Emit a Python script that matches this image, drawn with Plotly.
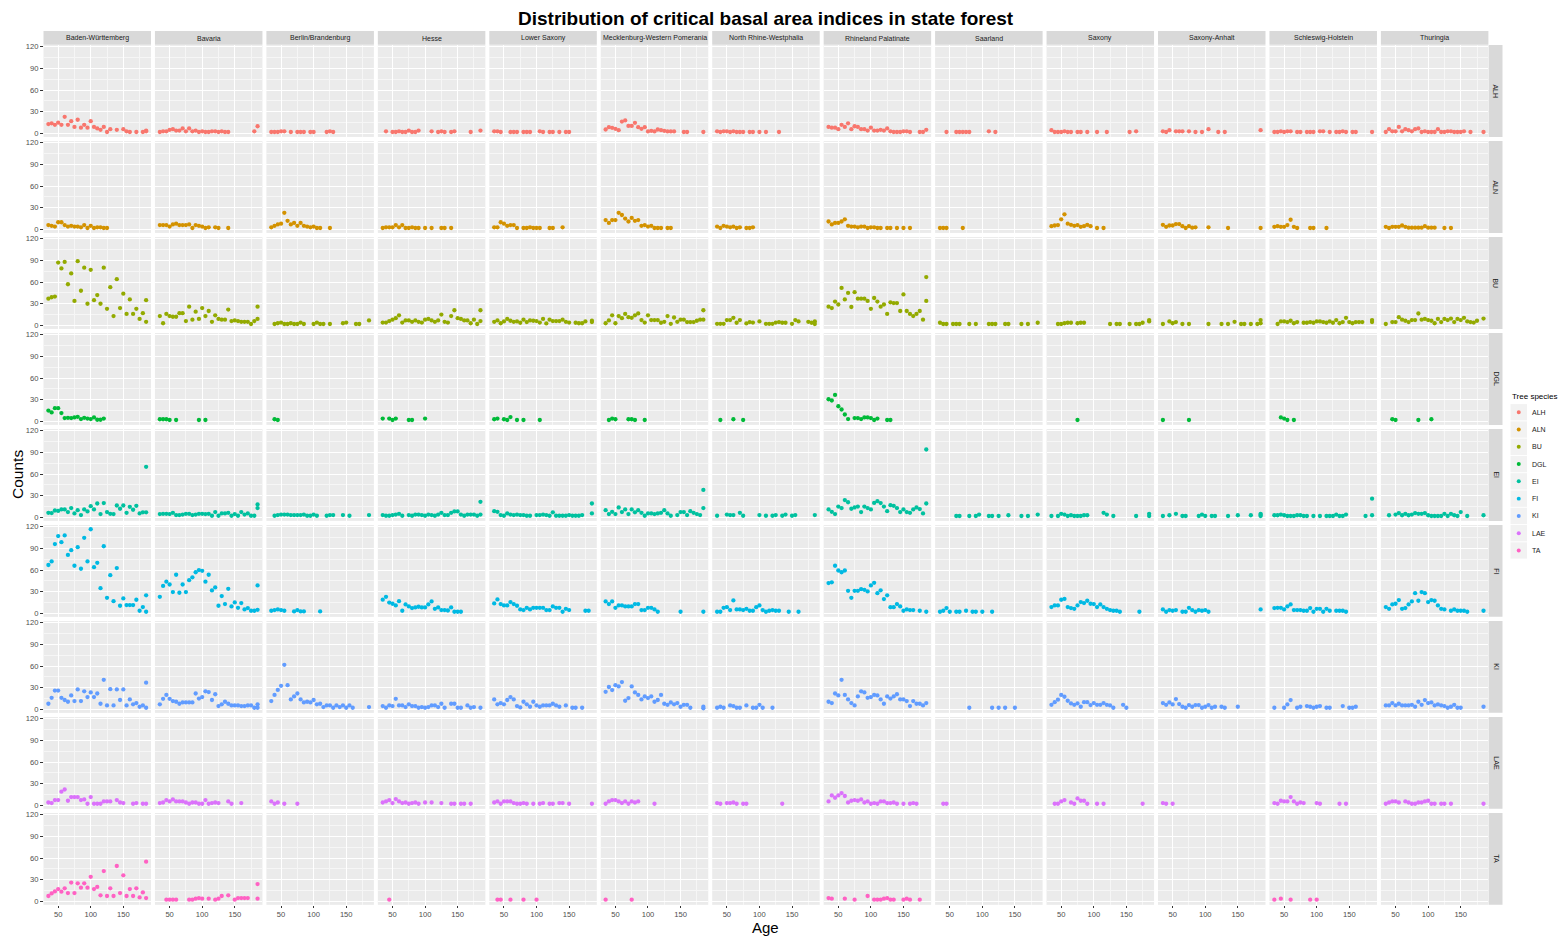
import plotly.graph_objects as go

N = None

SPECIES = ["ALH", "ALN", "BU", "DGL", "EI", "FI", "KI", "LAE", "TA"]
STATES = ["Baden-Württemberg", "Bavaria", "Berlin/Brandenburg", "Hesse", "Lower Saxony",
          "Mecklenburg-Western Pomerania", "North Rhine-Westphalia", "Rhineland Palatinate",
          "Saarland", "Saxony", "Saxony-Anhalt", "Schleswig-Holstein", "Thuringia"]
COLORS = ["#F8766D", "#D39200", "#93AA00", "#00BA38", "#00C19F", "#00B9E3", "#619CFF", "#DB72FB", "#FF61C3"]
AGES = list(range(35, 190, 5))
X_TICKS = [50, 100, 150]
Y_TICKS = [0, 30, 60, 90, 120]

# values per age class (35, 40, ... 185), one list per state, None = no observation
ALH = [
    [13, 14, 12, 15, 12, 23, 12, 17, 9, 19, 8, 12, 8, 17, 9, 7, 5, 9, 2, 6, N, 5, N, 6, 3, 2, N, 2, N, 2, 4],
    [2, 3, 3, 5, 6, 4, 4, 7, 3, 7, 3, 4, 2, 3, 2, 2, 3, 3, 2, 3, 2, 2, N, N, N, N, N, N, N, 3, 10],
    [2, 2, 2, 3, 3, N, 2, N, 2, 2, 2, N, 2, 2, N, N, N, 2, 3, 2],
    [N, 3, N, 2, 2, 3, 2, 2, 4, 2, 2, 4, N, N, N, 3, N, 2, 3, 2, N, 2, 3, N, N, N, N, 2, N, N, 4],
    [3, 3, 2, N, N, 2, 2, 2, N, 2, 2, 2, N, N, 3, 2, N, 2, 2, N, 2, N, 2, 2],
    [5.5, 8.7, 7.8, 6.4, 4.6, 16.5, 18, 10.5, 10.5, 14.7, 8.7, 6.4, 8.7, 2.8, 3.7, 2.8, 5.5, 4.6, 3.7, 2.8,
     2.8, 2.8, N, N, 2, 2, N, N, N, N, 2],
    [3, 2, 3, 3, 2, 3, 2, 2, 2, N, 2, 2, N, 2, N, 2, N, N, N, 2],
    [9, 8, 8, 6, 12, 9, 14, 6, 10, 9, 6, 6, 4, 8, 4, 4, 5, 4, 7, 3, 2, 2, 2, 3, 3, 2, N, N, 2, 2, 5],
    [N, N, 2, N, N, 2, 2, 2, 2, 2, N, N, N, N, N, 3, N, 2],
    [4.6, 2, 2, 2, 3, 2, 2, N, 2, 2, N, 2, N, N, 2, N, N, 2, N, N, N, N, N, N, 2, N, 3],
    [3, 2, 4.6, N, 3, 3, 3, N, 3, N, 2, N, 2, N, 6, N, N, 2, N, 2, N, N, N, N, N, N, N, N, N, N, 4.6],
    [2, 2, 3, 2, 3, 3, N, 2, 2, N, 2, 2, 2, N, 3, 3, N, 2, N, 2, 2, 3, 2, N, 2, 2, N, N, N, N, 2],
    [2, 6, 3, 3, 9, 3, 6, 4.6, 3, 6, 7, 2, 3, 2, 2, 2, 6, 2, 2, 3, 3, 2, 2, 2, 3, N, 2, N, N, N, 2],
]
ALN = [
    [6, 5, 4, 10, 10, 6, 4, 5, 4, 4, 3, 6, 2, 5, 2, 3, 3, 2, 2],
    [6, 6, 6, 4, 7, 8, 6, 6, 6, 7, 2, 6, 5, 4, 2, 3, N, 3, 2, N, N, 2],
    [3, 5, 7, 8, 23, 12, 7, 9, 5, 9, 5, 4, 3, 4, 2, 2, N, N, 2],
    [2, 3, 3, 3, 6, 3, 6, 2, 2, 3, 2, 2, N, 2, N, 2, N, N, 2, 2, N, 2],
    [3, 3, 10, 8, 5, 6, 6, 2, N, 2, 2, 3, 2, 2, 2, N, N, 2, 2, N, N, 3],
    [13, 9, 13, 13, 23, 20, 15, 11, 16, 12, 13, 5, 6, 4, 5, 2, 2, 2, N, 2, 2],
    [4, 2, 5, 4, 3, 4, 2, 3, N, 2, 2, 3],
    [11, 7, 9, 9, 11, 14, 5, 4, 4, 3, 4, 4, 2, 3, 3, 2, 2, N, 2, 2, N, 2, N, 2, N, 2],
    [2, 2, 2, N, N, N, N, 2],
    [4.6, 5.5, 6, 14, 21, 8, 6.4, 5, 6, 3.7, 4.6, 6.4, 4.6, N, 2, N, 2],
    [6.4, 3.7, 5.5, 5.5, 7.4, 7.4, 4.6, 2, 4.6, 2.5, 3, N, N, N, 3, N, N, N, N, N, 2, N, N, N, N, N, N, N, N, N, 2],
    [3.7, 4.6, 3.7, 3.7, 6, 13.4, 3.7, 2, N, N, N, 2, 2, N, N, N, 2],
    [3.7, 2, 3.7, 3.7, 3.7, 5.5, 3.7, 2.5, 2.5, 2.5, 2.5, 2.5, 4.6, 2.5, 2.5, 2.5, N, N, 2, N, 2],
]
BU = [
    [37, 39, 40, 87, 79, 88, 57, 72, 34, 89, 48, 80, 30, 77, 35, 42, 30, 80, 23, 53, 13, 64, 24, 44, 16, 36, 16, 23, 9, 17, 35],
    [13, 3, 16, 13, 12, 12, 17, 17, 6, 26, 8, 19, 9, 24, 13, 20, 5, 14, 9, 8, 8, 22, 6, 7, 6, 5, 5, 5, 2, 6, 26],
    [N, 2, 3, 4, 2, 2, 3, 2, 2, 4, 2, N, N, 2, 4, 2, 2, N, 2, N, N, N, 3, 4, N, N, 2, 2, N, N, 7],
    [4, 4, 6, 8, 10, 14, 4, 7, 7, 5, 7, 5, 4, 8, 9, 7, 5, 7, 15, 5, 4, 13, 21, 10, 9, 7, 7, 3, 8, 2, 21],
    [5, 7, 3, 5.5, 9, 6.5, 5, 5.5, 3.7, 8, 4.6, 7, 6.5, 6, 4, 9, 2.8, 8, 6, 6, 6, 8, 5, 4, N, 3.7, 3, 3, 5.5, N, 6.5],
    [3, 7, 14, 3, 13, 10, 16, 11.5, 10.6, 14, 16.7, 7.4, 4, 14, 7.4, 7.4, 7.4, 3.7, 5, 13, 2.3, 11, 5, 8, 8, 4.6,
     4.6, 4.6, 6.5, 8, 21],
    [2.3, 2.3, 2.3, 7.4, 7.4, 10.6, 3.7, 7.4, N, 2.8, 4.6, 4, N, 5.5, N, 2.3, 2.3, 2.3, 4, 4.6, 3.7, 3.7, N, 2.3,
     7.4, 5.5, N, N, 5, 3.7, 5.5],
    [26, 24, 33, 29, 52, 36, 45, 25.5, 46, 37, 37, 37, 34, 23, 38, 33, 26, 29, 16, 32, 31, 31, 20, 43, 20, 16, 13, 16, 20, 8, 67],
    [3.7, 2, 2, N, 2, 2, 2, N, N, 2, N, 2, N, N, N, 2, 2, 2, N, N, 2, 2, N, N, N, 2, N, 2, N, N, 3.7],
    [N, N, 2, 2, 3, 3.7, 3.7, N, 3, 3.7, 3.7, N, N, N, N, N, N, N, 2, N, 2, 2, N, N, 2, N, 2, 2, 3.7, N, 5.5],
    [2, N, 5.5, 3, 4.6, N, 2, N, 2, N, N, N, N, N, 2, N, N, N, 2, N, 2, N, 5, N, 2, 2, N, 2, N, 2, 7.4],
    [N, 2, 5.5, 5.5, 4.6, 6.5, 3, 4.6, N, 3.7, 3.7, 4.6, 3.7, 5.5, 5.5, 4.6, 3.7, 5.5, 3.7, 7.4, 3, 4.6, 10.6,
     4.6, 3, 4.6, 4.6, 4.6, N, N, 4.6],
    [2, N, 4.6, 4.6, 11.5, 8, 6.5, 4.6, 7.4, 7.4, 16.5, 8, 9, 7.4, 6.5, 3, 9, 4.6, 9, 7.4, 9.5, 4.6, 9, 7.4, 10.6,
     5.5, 4.6, 4, 6.5, N, 9.5],
]
DGL = [
    [15, 12.4, 18.3, 18.3, 11.5, 4.6, 5, 4.6, 5.5, 6.4, 3.2, 5, 4, 3.2, 5.5, 2.3, 2.3, 4],
    [3, 3, 3, 2, N, 2, N, N, N, N, N, N, 2, N, 2],
    [N, 3, 2],
    [4, N, 4, 2, 4, N, N, N, 2, 2, N, N, N, 4],
    [3, 4, N, 3, 2, 6, N, 2, N, 2, N, N, N, N, 2],
    [N, 2, 4, 3, N, N, N, 3, 3, 2, N, N, 2],
    [N, 2, N, N, N, 3, N, N, 2],
    [30.7, 29, 36.7, 21, 16.5, 9.6, 3.2, N, 4.6, 4.6, 3.2, 5.5, 5.5, 4.6, 2, 4, N, N, 2, 2],
    [],
    [N, N, N, N, N, N, N, N, 2],
    [2, N, N, N, N, N, N, N, 2],
    [N, N, 5.5, 4, 2, N, 2],
    [N, N, 3, 2, N, N, N, N, N, N, 2, N, N, N, 3],
]
EI = [
    [6.4, 6, 9.6, 9, 11, 11, 7.4, 13, 5.5, 10, 3.2, 11, 8.3, 15.6, 11, 19.3, 4.6, 19.8, 7.4, 5, 4.6, 16.5, 12, 16.5,
     6.4, 14.7, 10.6, 16, 5.5, 7, 7],
    [4.6, 5, 5, 4.6, 6.4, 3.2, 3.2, 4, 5, 5, 3.2, 4, 5, 5, 4.6, 5, 2.3, 7.4, 2.3, 5.5, 5.5, 6.4, 2.3, 4.6, 2.3, 7.4,
     4, 5.5, 2.3, 2.3, 18],
    [N, 2.3, 3.2, 4, 4, 4, 3.2, 3.2, 3.2, 3.2, 4, 2.3, 2.3, 4, 2.3, N, N, 2.3, 3.2, 3.2, N, N, 3.2, N, 2.3, N, N, N,
     N, N, 3.2],
    [3.2, 2.3, 2.3, 3.2, 4, 5, 2.3, N, 3.2, 2.3, 4, 4, 3.2, 2.3, 4, 3.2, 2.3, 4, 6.4, 3.2, 3.2, 6.4, 8.3, 8.3, 4, 2.3,
     4, 4, 4, 2.3, 21.6],
    [8.7, 7.8, 3.2, 2.3, 5.5, 4, 3.2, 4, 3.2, 3.2, 2.3, 2.3, N, 3.2, 3.2, 4, 3.2, 2.3, 7, 2.3, 2.3, 2.3, 2.3, 3.2,
     2.3, 2.3, 2.3, 3.2, N, N, 19.3],
    [10, 4.6, 7.8, 4.6, 13.8, 7.4, 11, 4.6, 11, 7, 10, 6.4, 2.3, 5.5, 5.5, 4.6, 5.5, 6.4, 10, 5.5, 2.3, N, 3.2, 7.4,
     7.4, 3.2, 8.7, 6.4, 4.6, 3.2, 13],
    [2.3, N, N, 4, 3.2, 3.2, N, 6.4, 2.3, N, N, N, N, 3.2, N, 2.3, N, 2.3, 3.2, N, 2.3, 4, N, 2.3, 3.2, N, N, N, N,
     N, 3.2],
    [11, 7.8, 4.6, 15, 12.9, 24, 21, 12, 13.8, 15, 7.4, 15, 12.9, 11, 20, 22.5, 19.8, 15, 8.7, 17, 16, 12.9, 7.4, 11,
     7.4, 6.4, 11, 13.8, 11.5, 5.5, 19.3],
    [N, N, N, N, N, 2, 2, N, N, 2, N, 2, 4, N, N, 2, 2, N, 2, N, N, 3, N, N, N, 2, N, 2, N, N, 4],
    [2, N, 2, 5, 4, 2, 3, 2, 2, 2, 3, 3, N, N, N, N, 6.4, 4, N, 2, N, N, N, N, N, N, 2, N, N, N, 5],
    [2, N, 3, N, 5, N, 2, 2, N, N, N, 2, 4, 2, N, 2, 2, N, N, N, 2, N, N, 3, N, N, N, 3, N, N, 5],
    [3, 3, 4, 3, 2, 2, 2, 3, 3, 2, 2, N, 2, N, 2, N, 2, 2, 2, 4, 2, 2, 4, N, N, N, N, N, 2, N, 26],
    [N, 3, N, 4, 6, 3, 5, 3, 4, 6, 5, 5, 6, 3, 2, 2, 2, 2, 5, 2, 5, 3, 2, 7.4, N, 2, N, N, N, N, 3],
]
FI = [
    [67, 72, 96, 107, 98.6, 108, 81, 87.5, 66, 91.7, 61.8, 104.6, 72, 116.5, 64, 70, 35, 93, 21.6, 53, 17, 62.7,
     10.6, 20.7, 11.5, 11.5, 11.5, 18.9, 3.7, 8.8, 25],
    [23, 38, 44, 40, 29.5, 53.5, 28.6, 40, 29.5, 46, 50, 57, 60, 59, 44, 53.5, 31.8, 36, 10.6, 24, 12.9, 34, 9.7,
     15.2, 7.8, 14.3, 5.5, 7.4, 3.7, 3.7, 38.7],
    [3.7, 4.6, 5.5, 4.6, 3.7, N, N, 2.8, 4.6, 2.8, 2.8, N, N, N, N, 2.8],
    [19, 23, 15, 13.4, 11, 17, 3.7, 12.4, 9.7, 7.4, 8.3, 9.2, 8.3, 8.3, 12.4, 16.6, 6.4, 8.3, 4.6, 4.6, 4, 8.3, 2.3,
     2.3, 2.3],
    [13.8, 19.3, 12.9, 11, 11, 15.7, 12.9, 10.6, 5.5, 4.6, 7.8, 5.5, 7.8, 7.8, 7.8, 7.8, 4.6, 4.6, 9.7, 7.8, 7.8,
     2.3, 6.4, 4.6, N, N, N, N, 3.7, 3.7],
    [16.6, 12.9, 16.6, 7.8, 11, 11, 9.7, 9.7, 9.7, 12.9, 12.9, 4.6, 4.6, 7.8, 7.8, 5.5, 2.3, N, N, N, N, N, N, 2.3,
     N, N, N, N, N, N, 2.3],
    [2.3, 2.3, 7.8, 8.7, 4.6, 18, 5.5, 5.5, 4.6, 6.4, 3.7, 3.7, 8.7, 11, 4.6, 2.3, 3.7, 4.6, 3.7, 3.7, N, N, 2.3, N,
     N, 2.3],
    [42, 43, 66, 59.4, 57, 59.4, 31.3, 21.6, 31.3, 31.3, 33.6, 32.7, 30.4, 38.7, 42.4, 28, 32, 19.8, 25, 8.7, 8.7,
     12.9, 9.7, 3.7, 5.5, 4.6, 4.6, N, 3.7, N, 2.3],
    [2.3, 3.7, 7.4, 2.3, N, 2.3, 2.3, N, 3.7, N, 2.3, 2.3, N, 2.3, N, N, 2.3],
    [8.8, 11, 11, 18.9, 20, 8.8, 7.4, 6.4, 11, 15.7, 14.3, 17.5, 13.4, 12.9, 8.8, 12.4, 8.8, 6.4, 4.6, 3.7, 3.7, 2.3,
     N, N, N, N, N, 2.3],
    [5.5, 2.3, 4.6, 3.7, 4.6, N, 2.3, 2.3, 7.8, 4.6, 2.3, 4.6, 3.7, 4.6, 2.3, N, N, N, N, N, N, N, N, N, N, N, N, N,
     N, N, 5.5],
    [7.4, 7.8, 7.8, 5.5, 9.7, 12.4, 4.6, 4.6, 4.6, 3.7, 3.7, 7.4, 2.3, 6.4, 6.4, 2.3, 6.4, 3.7, N, 3.7, 3.7, 3.7, 2.3],
    [8.8, 6.4, 12.4, 13.4, 18.4, 6.4, 7.4, 12.4, 16.6, 28, 17.5, 29.5, 28, 15.7, 18.4, 17.5, 11, 6.4, 5.5, N, 3.7,
     5.5, 3.7, 3.7, 3.7, 2.3, N, N, N, N, 3.7],
]
KI = [
    [7.8, 16, 26, 26, 16, 13, 10.6, 19.3, 11.5, 27.6, 11.5, 25, 17, 23.5, 17, 22, 7.8, 41, 5.5, 28, 5.5, 27.6, 13,
     27.6, 5.5, 13.8, 7, 8.7, 3.7, 5.5, 2.3],
    [7, 14.7, 20, 14.7, 11.5, 10.6, 7.8, 9.7, 9.7, 9.7, 9.7, 22, 15, 17, 25, 24, 13, 21, 4.6, 7, 10.6, 7.8, 5.5, 5.5,
     5.5, 4.6, 4.6, 5.5, 5.5, 2.3, 2.3],
    [11.5, 20, 27, 32.7, 61.7, 33.6, 13.8, 18, 22, 13.8, 9.7, 10.6, 9.7, 13, 7, 7.8, 3.2, 5.5, 5.5, 2.3, 5.5, 3.2,
     5.5, 2.3, 5.5, 2.3, N, N, N, N, 3.2],
    [4.6, 2.3, 5.5, 4.6, 14.7, 5.5, 5.5, 3.2, 7, 4.6, 4.6, 2.3, 3.2, 2.3, 3.2, 5.5, 5.5, 3.2, 7.8, 2.3, N, 7.8, 7.8,
     2.3, 2.3, N, 5.5, 2.3, 3.2, N, 2.3],
    [13.8, 7, 8.7, 7, 13, 17, 13.8, 4.6, 2.8, 10.6, 7, 3.7, 10.6, 5.5, 3.7, 5.5, 5.5, 5.5, 7.8, 5.5, 3.7, N, 5.5, N,
     2.3, 2.3, N, 2.3],
    [24.4, 31, 26.7, 33.6, 31.8, 37.8, 12, 15.7, 31.8, 23.5, 20, 13.8, 18, 15.7, 18, 10.6, 13, 20, 7.8, 6.4, 9.7, 7,
     8.7, 3.7, 6.4, 6.4, 2.3, N, N, N, 3.7],
    [2.3, 3.7, 2.3, N, 5.5, 4.6, 2.3, 2.3, N, 5.5, N, 2.3, 2.3, 6.4, 2.3, N, N, 2.3],
    [10.6, 8.7, 22, 19.3, 41, 20, 13.8, 8.7, 5.5, 18, 25, 23.5, 16, 17, 20, 19.3, 13.8, 7.8, 18, 15, 18, 21, 13.8,
     13.8, 11.5, 4.6, 11.5, 7.8, 7.8, 5.5, 8.7],
    [N, N, N, N, N, N, N, N, N, 2.3, N, N, N, N, N, N, 2.3, N, 2.3, N, 2.3, N, N, 2.3],
    [6.4, 10, 13.4, 20, 17.5, 12, 8.3, 6.4, 8.3, 3.7, 10, 10, 6, 8.8, 6.4, 6.4, 8.8, 6.4, 5.5, 2.3, N, N, 6.4, 2.3],
    [8.8, 6.4, 9.7, 6.9, 14.3, 7.4, 3.7, 2.3, 6, 3.7, 6, 6, 2.3, 3.7, 6, 2.3, 3.7, N, 3.7, 2.3, N, N, N, 3.7],
    [2.3, N, N, 2.3, 6.9, 12.9, N, 2.3, 3.7, N, 4.6, 3.7, 2.3, 3.7, 4.6, N, 2.3, 2.3, N, N, N, 4.6, N, 2.3, 2.3, 3.7],
    [5.5, 5.5, 8.8, 5.5, 7.8, 5.5, 5.5, 5.5, 6.4, 3.7, 10.6, 6.4, 12.9, 8.8, 9.7, 5.5, 6.9, 5.5, 4.6, 2.3, 3.7, 6.4,
     2.3, 2.3, N, N, N, N, N, N, 3.7],
]
LAE = [
    [4, 3.2, 7.4, 7.4, 19, 22, 6.4, 11.5, 11.5, 11.5, 7.4, 8.3, 2.3, 11.5, 2.3, 2.3, 2.3, 5.5, 5.5, 5.5, N, 7.4, 4,
     3.2, N, N, 2.3, 3.2, N, 2.3, 2.3],
    [3.2, 4, 7.4, 5.5, 8.3, 5.5, 5.5, 5.5, 4, 2.3, 4, 4, 2.3, 2.3, 7.4, 2.3, 3.2, 4, 3.2, N, N, 5.5, 2.3, N, N, 3.2],
    [5.5, 2.3, 4, N, 2.3, N, N, N, 2.3],
    [4, 5.5, 7.4, 3.2, 8.7, 5.5, 3.2, 4, 2.3, 3.2, 4, 2.3, N, 4, N, 4, N, N, 3.2, N, N, 2.3, 2.3, N, 2.3, 2.3, N, 2.3],
    [4, 5.5, 2.3, 5.5, 5.5, 5.5, 3.2, 2.3, 2.3, 3.2, 2.3, N, 2.3, N, 2.3, 3.2, N, 2.3, 2.3, N, 3.2, 3.2, N, 2.3, N,
     N, N, N, N, N, 2.3],
    [2.3, 5.5, 7.4, 7.4, 5.5, 3.2, 5.5, 2.3, 5.5, 4, 5.5, N, N, N, N, 2.3],
    [3.2, 2.3, N, 3.2, 3.2, 4, 2.3, N, 2.3, 2.3, N, N, N, N, N, N, N, N, N, N, 2.3],
    [5.5, 13.8, 10.6, 13.8, 17, 13, 4, 6.4, 7.4, 6.4, 8.3, 4, 5.5, 2.3, 3.2, 2.3, 5.5, 5.5, 3.2, 3.2, 4, 2.3, N, 2.3,
     N, 2.3, 3.2, 2.3],
    [N, 2.3, 2.3],
    [N, 2.3, 2.3, 5.5, 7.4, N, 4, 2.3, 9.7, 6.4, 6.4, 2.3, N, N, 2.3, N, 2.3, N, N, N, N, N, N, N, N, N, N, N, 2.3],
    [3.2, 2.3, N, 2.3],
    [3.2, 2.3, 6.4, 5.5, 5.5, 11.5, 5.5, 2.3, 4, 3.2, N, N, N, 3.2, 2.3, N, N, N, N, N, 2.3, N, 2.3],
    [2.3, 4, 5.5, 5.5, 4, N, 5.5, 4, 2.3, 2.3, 4, 4, 5.5, 6.4, 2.3, 2.3, N, 2.3, 2.3, N, 2.3, N, N, N, N, N, N, N, N,
     N, 2.3],
]
TA = [
    [7.4, 11, 13.8, 17, 13.4, 18, 11.5, 26, 11.5, 25, 19, 25, 19, 34, 17, 20, 8.3, 42, 7.4, 18, 7.4, 49, 11.5, 36,
     7.4, 17, 7.4, 18, 5.5, 12.4, 55],
    [N, N, 2.3, 2.3, 2.3, 2.3, N, N, N, 2.3, 2.3, 3.7, 4.6, 3.7, N, 3.7, N, 2.3, 3.7, 7.4, N, 8.3, N, 2.3, 4.6, 4.6,
     4.6, 4.6, N, N, 24],
    [],
    [N, N, 2.3],
    [N, 2.3, 2.3, N, N, 2.3, N, N, N, 2.3, N, N, N, 2.3],
    [2.3, N, N, N, N, N, N, N, 2.3],
    [],
    [4.6, 3.7, N, N, N, 3.7, N, N, 2.3, N, N, N, 7.4, N, 2.3, 2.3, 2.3, 3.7, 4.6, 2.3, 2.3, N, N, 2.3, 3.7, 2.3, N,
     N, 2.3],
    [],
    [],
    [],
    [2.3, N, 3.7, N, N, 2.3, N, N, N, N, N, 2.3, N, 2.3],
    [],
]
# second observations at the same age: (species, state index, age, value)
EXTRA = [
    ("ALH", 0, 185, 3),
    ("BU", 0, 185, 5), ("BU", 1, 185, 9), ("BU", 3, 185, 6), ("BU", 4, 185, 4.6), ("BU", 5, 185, 8),
    ("BU", 6, 185, 2), ("BU", 7, 185, 34), ("BU", 9, 185, 7.4), ("BU", 10, 185, 3), ("BU", 11, 185, 7.4),
    ("EI", 0, 185, 70), ("EI", 1, 185, 13), ("EI", 3, 185, 4), ("EI", 4, 185, 5.5), ("EI", 5, 185, 38),
    ("EI", 7, 185, 94), ("EI", 9, 185, 2), ("EI", 10, 185, 2), ("EI", 10, 185, 3.5), ("EI", 11, 185, 3),
    ("FI", 0, 185, 2.3), ("FI", 1, 185, 5),
    ("KI", 0, 185, 37), ("KI", 1, 185, 7), ("KI", 5, 185, 1.5),
    ("TA", 0, 185, 4.6), ("TA", 1, 185, 3.7),
]

DATA = {"ALH": ALH, "ALN": ALN, "BU": BU, "DGL": DGL, "EI": EI, "FI": FI, "KI": KI, "LAE": LAE, "TA": TA}

# ---------------- layout geometry (pixels) ----------------
W, H = 1566, 939
X0, PITCH_X, PW = 43.5, 111.45, 107.5
Y0, PITCH_Y, PH = 42.3, 96.4, 92.2
STRIP_TOP = 28.0
RSTRIP_W = 13.8
FONT = "Liberation Sans, Arial, sans-serif"

def px(x):
    return x / W

def py(y):
    return 1 - y / H

fig = go.Figure()
layout_axes = {}
shapes = []
annotations = []

nrow, ncol = len(SPECIES), len(STATES)
for r, sp in enumerate(SPECIES):
    values = DATA[sp]
    for c in range(ncol):
        k = r * ncol + c + 1
        xs, ys = [], []
        for a, v in zip(AGES, values[c]):
            if v is not None:
                xs.append(a)
                ys.append(v)
        for s2, c2, a, v in EXTRA:
            if s2 == sp and c2 == c:
                xs.append(a)
                ys.append(v)
        xname = "x" if k == 1 else f"x{k}"
        yname = "y" if k == 1 else f"y{k}"
        fig.add_trace(go.Scatter(
            x=xs, y=ys, mode="markers", xaxis=xname, yaxis=yname,
            marker=dict(color=COLORS[r], size=4.3, line=dict(width=0)),
            showlegend=False, name=sp, hoverinfo="x+y+name"))

        left = X0 + c * PITCH_X
        top = Y0 + r * PITCH_Y
        bottom_row = (r == nrow - 1)
        left_col = (c == 0)
        layout_axes["xaxis" if k == 1 else f"xaxis{k}"] = dict(
            domain=[px(left), px(left + PW)], anchor=yname, range=[27.5, 192.5],
            tickvals=X_TICKS, ticktext=[str(t) for t in X_TICKS],
            showticklabels=bottom_row, ticks="outside" if bottom_row else "",
            ticklen=2.5, tickwidth=1, tickcolor="#333333",
            tickfont=dict(size=7.6, color="#4D4D4D", family=FONT),
            showgrid=True, gridcolor="white", gridwidth=1.1,
            minor=dict(tickvals=[75, 125, 175], showgrid=True, gridcolor="#F6F6F6", gridwidth=0.5, ticks=""),
            zeroline=False, showline=False, fixedrange=True)
        layout_axes["yaxis" if k == 1 else f"yaxis{k}"] = dict(
            domain=[py(top + PH), py(top)], anchor=xname, range=[-4.8, 122.3],
            tickvals=Y_TICKS, ticktext=[str(t) for t in Y_TICKS],
            showticklabels=left_col, ticks="outside" if left_col else "",
            ticklen=2.5, tickwidth=1, tickcolor="#333333",
            tickfont=dict(size=7.6, color="#4D4D4D", family=FONT),
            showgrid=True, gridcolor="white", gridwidth=1.1,
            minor=dict(tickvals=[15, 45, 75, 105], showgrid=True, gridcolor="#F6F6F6", gridwidth=0.5, ticks=""),
            zeroline=False, showline=False, fixedrange=True)

# top strips (states)
for c, st in enumerate(STATES):
    left = X0 + c * PITCH_X
    shapes.append(dict(type="rect", xref="paper", yref="paper", x0=px(left), x1=px(left + PW),
                       y0=py(Y0 - 0.3), y1=py(STRIP_TOP), fillcolor="#D9D9D9", line=dict(width=0), layer="below"))
    annotations.append(dict(text=st, xref="paper", yref="paper", x=px(left + PW / 2), y=py((Y0 + STRIP_TOP) / 2),
                            showarrow=False, xanchor="center", yanchor="middle",
                            font=dict(size=7, color="#1A1A1A", family=FONT)))

# right strips (species)
rx = X0 + (ncol - 1) * PITCH_X + PW + 0.3
for r, sp in enumerate(SPECIES):
    top = Y0 + r * PITCH_Y
    shapes.append(dict(type="rect", xref="paper", yref="paper", x0=px(rx), x1=px(rx + RSTRIP_W),
                       y0=py(top + PH), y1=py(top), fillcolor="#D9D9D9", line=dict(width=0), layer="below"))
    annotations.append(dict(text=sp, xref="paper", yref="paper", x=px(rx + RSTRIP_W / 2), y=py(top + PH / 2),
                            showarrow=False, textangle=90, xanchor="center", yanchor="middle",
                            font=dict(size=7, color="#1A1A1A", family=FONT)))

# titles
panels_cx = (X0 + X0 + (ncol - 1) * PITCH_X + PW) / 2
panels_cy = (Y0 + Y0 + (nrow - 1) * PITCH_Y + PH) / 2
annotations.append(dict(text="<b>Distribution of critical basal area indices in state forest</b>",
                        xref="paper", yref="paper", x=px(766), y=py(15.5), showarrow=False,
                        xanchor="center", yanchor="middle", font=dict(size=19, color="black", family=FONT)))
annotations.append(dict(text="Age", xref="paper", yref="paper", x=px(panels_cx), y=py(928), showarrow=False,
                        xanchor="center", yanchor="middle", font=dict(size=15, color="black", family=FONT)))
annotations.append(dict(text="Counts", xref="paper", yref="paper", x=px(18), y=py(panels_cy), showarrow=False,
                        textangle=-90, xanchor="center", yanchor="middle",
                        font=dict(size=15.5, color="black", family=FONT)))

# legend (drawn as guide)
LEG_X, LEG_TITLE_Y, LEG_Y0, LEG_STEP = 1510.5, 395, 411, 17.35
annotations.append(dict(text="Tree species", xref="paper", yref="paper", x=px(LEG_X - 1), y=py(LEG_TITLE_Y),
                        showarrow=False, xanchor="left", yanchor="middle",
                        font=dict(size=8, color="black", family=FONT)))
for i, sp in enumerate(SPECIES):
    cy = LEG_Y0 + i * LEG_STEP
    shapes.append(dict(type="rect", xref="paper", yref="paper", x0=px(LEG_X), x1=px(LEG_X + 16.5),
                       y0=py(cy + 8.2), y1=py(cy - 8.2), fillcolor="#F2F2F2", line=dict(width=0)))
    shapes.append(dict(type="circle", xref="paper", yref="paper", x0=px(LEG_X + 8.25 - 2), x1=px(LEG_X + 8.25 + 2),
                       y0=py(cy + 2), y1=py(cy - 2), fillcolor=COLORS[i], line=dict(width=0)))
    annotations.append(dict(text=sp, xref="paper", yref="paper", x=px(LEG_X + 19), y=py(cy), showarrow=False,
                            xanchor="left", yanchor="middle", font=dict(size=7, color="#1A1A1A", family=FONT)))

fig.update_layout(
    width=W, height=H, autosize=False,
    margin=dict(l=0, r=0, t=0, b=0, pad=0),
    paper_bgcolor="white", plot_bgcolor="#EBEBEB",
    font=dict(family=FONT, color="#4D4D4D"),
    showlegend=False, shapes=shapes, annotations=annotations,
    **layout_axes)

fig.write_html("out.html", include_plotlyjs=True, config={"displayModeBar": False},
               post_script="document.body.style.margin='0';document.body.style.overflow='hidden';")
